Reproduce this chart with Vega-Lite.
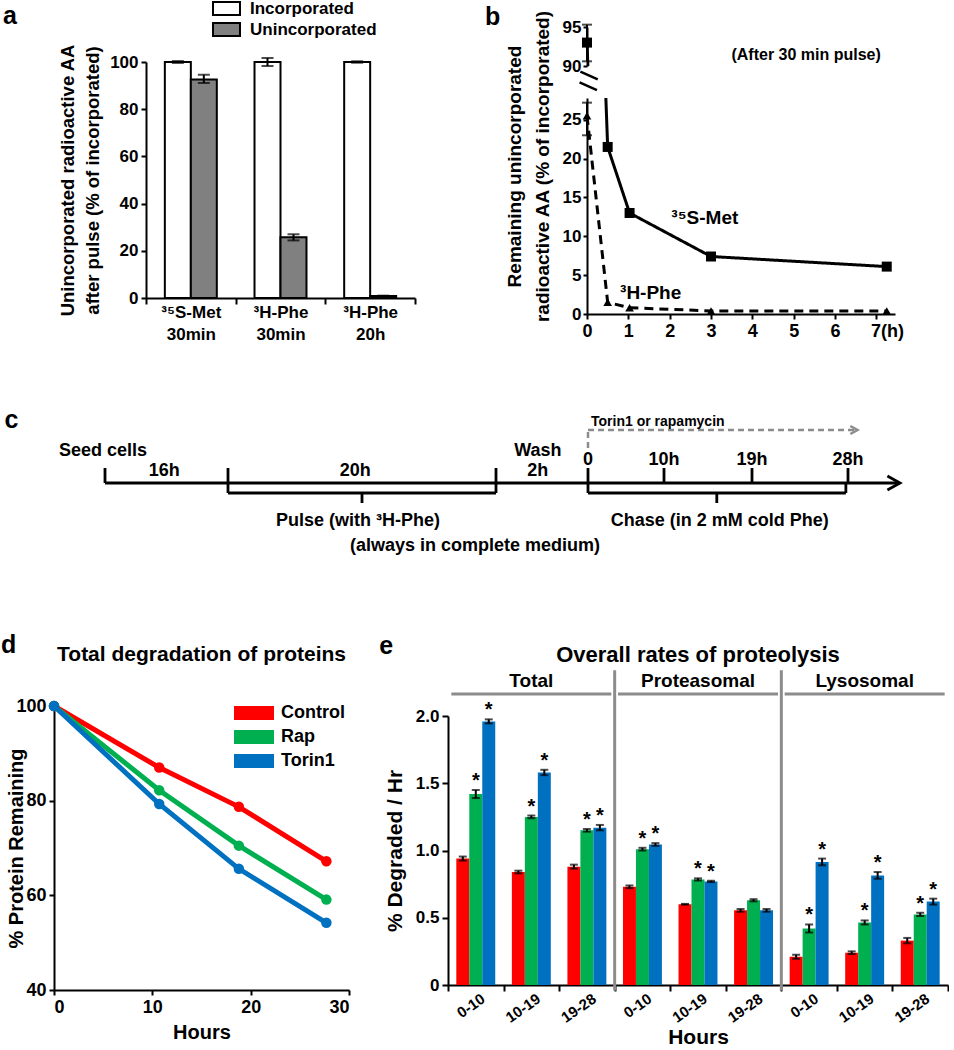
{
  "$schema": "https://vega.github.io/schema/vega-lite/v6.json",
  "background": "white",
  "padding": 0,
  "config": {
    "font": "Liberation Sans",
    "view": {"stroke": null},
    "axis": {"labelFont": "Liberation Sans", "labelFontWeight": "bold", "labelColor": "black", "labelFontSize": 17, "titleFont": "Liberation Sans", "titleFontWeight": "bold", "titleColor": "black", "titleFontSize": 18, "domainColor": "black", "domainWidth": 2, "tickColor": "black", "tickWidth": 2, "tickSize": 5, "grid": false, "labelPadding": 3},
    "legend": {"labelFont": "Liberation Sans", "labelFontWeight": "bold", "labelColor": "black", "padding": 0},
    "title": {"font": "Liberation Sans", "fontWeight": "bold", "fontSize": 25, "anchor": "start", "offset": 0, "baseline": "alphabetic", "color": "black", "frame": "bounds"},
    "text": {"font": "Liberation Sans", "fontWeight": "bold", "color": "black"}
  },
  "datasets": {
    "a": [
      {"probe": "³⁵S-Met|30min", "kind": "Incorporated", "v": 100, "lo": 99.6, "hi": 100.4},
      {"probe": "³⁵S-Met|30min", "kind": "Unincorporated", "v": 92.6, "lo": 91.1, "hi": 94.6},
      {"probe": "³H-Phe|30min", "kind": "Incorporated", "v": 100, "lo": 98.3, "hi": 101.7},
      {"probe": "³H-Phe|30min", "kind": "Unincorporated", "v": 25.7, "lo": 24.4, "hi": 27.0},
      {"probe": "³H-Phe|20h", "kind": "Incorporated", "v": 100, "lo": 99.7, "hi": 100.3},
      {"probe": "³H-Phe|20h", "kind": "Unincorporated", "v": 0.9, "lo": 0.8, "hi": 1.0}
    ],
    "bpts": [
      {"s": "35S", "t": 0, "v": 93.0},
      {"s": "35S", "t": 0.5, "v": 21.5},
      {"s": "35S", "t": 1.03, "v": 13.0},
      {"s": "35S", "t": 3, "v": 7.4},
      {"s": "35S", "t": 7.25, "v": 6.1},
      {"s": "3H", "t": 0, "v": 25.5},
      {"s": "3H", "t": 0.5, "v": 1.5},
      {"s": "3H", "t": 1.03, "v": 0.8},
      {"s": "3H", "t": 3, "v": 0.4},
      {"s": "3H", "t": 7.25, "v": 0.4}
    ],
    "berr": [
      {"s": "35S", "t": 0, "lo": 90.6, "hi": 95.3},
      {"s": "3H", "t": 0, "lo": 23.0, "hi": 27.2}
    ],
    "bnote": [{"t": 5.3, "v": 91.4, "label": "(After 30 min pulse)"}],
    "blab": [
      {"t": 2.85, "v": 12.4, "label": "³⁵S-Met"},
      {"t": 1.54, "v": 2.75, "label": "³H-Phe"}
    ],
    "bbreak": [
      {"t": -0.16, "t2": 0.26, "v": 31.2, "v2": 30.2},
      {"t": -0.18, "t2": 0.24, "v": 29.8, "v2": 28.8}
    ],
    "cseg": [
      {"x": -38, "x2": 33.7, "y": 0, "y2": 0},
      {"x": -38, "x2": -38, "y": 0, "y2": 15},
      {"x": -22, "x2": -22, "y": 0, "y2": 15},
      {"x": -2, "x2": -2, "y": 0, "y2": 15},
      {"x": 0, "x2": 0, "y": 0, "y2": 15},
      {"x": 10, "x2": 10, "y": 0, "y2": 15},
      {"x": 19, "x2": 19, "y": 0, "y2": 15},
      {"x": 28, "x2": 28, "y": 0, "y2": 15},
      {"x": -22, "x2": -22, "y": 0, "y2": -10},
      {"x": -22, "x2": -2, "y": -10, "y2": -10},
      {"x": -2, "x2": -2, "y": -10, "y2": 0},
      {"x": -12, "x2": -12, "y": -10, "y2": -20},
      {"x": 0, "x2": 0, "y": 0, "y2": -10},
      {"x": 0, "x2": 27.8, "y": -10, "y2": -10},
      {"x": 27.8, "x2": 27.8, "y": -10, "y2": 0},
      {"x": 15.4, "x2": 15.4, "y": -10, "y2": -20}
    ],
    "cdash": [
      {"x": 0, "x2": 0, "y": 35, "y2": 53},
      {"x": 0, "x2": 28.9, "y": 53, "y2": 53}
    ],
    "chead": [{"x": 34, "y": 0}],
    "cdhead": [{"x": 29.1, "y": 53}],
    "ctext": [
      {"x": -43.4, "y": 55, "label": "c", "role": "letter"},
      {"x": -40.65, "y": 27, "label": "Seed cells", "role": "left"},
      {"x": -30.3, "y": 7, "label": "16h", "role": "main"},
      {"x": -12.5, "y": 7, "label": "20h", "role": "main"},
      {"x": -1.09, "y": 27, "label": "Wash", "role": "main"},
      {"x": -1.09, "y": 7, "label": "2h", "role": "main"},
      {"x": 0, "y": 18, "label": "0", "role": "main"},
      {"x": 10, "y": 18, "label": "10h", "role": "main"},
      {"x": 19, "y": 18, "label": "19h", "role": "main"},
      {"x": 28, "y": 18, "label": "28h", "role": "main"},
      {"x": 0.4, "y": 57, "label": "Torin1 or rapamycin", "role": "small"},
      {"x": -12.3, "y": -43, "label": "Pulse (with ³H-Phe)", "role": "main"},
      {"x": 15.7, "y": -43, "label": "Chase (in 2 mM cold Phe)", "role": "main"},
      {"x": -3.57, "y": -68, "label": "(always in complete medium)", "role": "main"}
    ],
    "d": [
      {"g": "Control", "t": 0, "v": 100}, {"g": "Control", "t": 10.7, "v": 87.0}, {"g": "Control", "t": 18.8, "v": 78.7}, {"g": "Control", "t": 27.7, "v": 67.2},
      {"g": "Rap", "t": 0, "v": 100}, {"g": "Rap", "t": 10.7, "v": 82.2}, {"g": "Rap", "t": 18.8, "v": 70.5}, {"g": "Rap", "t": 27.7, "v": 59.1},
      {"g": "Torin1", "t": 0, "v": 100}, {"g": "Torin1", "t": 10.7, "v": 79.3}, {"g": "Torin1", "t": 18.8, "v": 65.6}, {"g": "Torin1", "t": 27.7, "v": 54.2}
    ],
    "dtitle": [{"t": 15, "v": 110.8, "label": "Total degradation of proteins"}],
    "e": [
      {"cat": "T|0-10", "trt": "Control", "v": 0.94, "lo": 0.925, "hi": 0.955, "sig": ""},
      {"cat": "T|0-10", "trt": "Rap", "v": 1.42, "lo": 1.39, "hi": 1.45, "sig": "*"},
      {"cat": "T|0-10", "trt": "Torin1", "v": 1.96, "lo": 1.945, "hi": 1.975, "sig": "*"},
      {"cat": "T|10-19", "trt": "Control", "v": 0.84, "lo": 0.83, "hi": 0.85, "sig": ""},
      {"cat": "T|10-19", "trt": "Rap", "v": 1.25, "lo": 1.24, "hi": 1.26, "sig": "*"},
      {"cat": "T|10-19", "trt": "Torin1", "v": 1.58, "lo": 1.56, "hi": 1.60, "sig": "*"},
      {"cat": "T|19-28", "trt": "Control", "v": 0.88, "lo": 0.865, "hi": 0.895, "sig": ""},
      {"cat": "T|19-28", "trt": "Rap", "v": 1.15, "lo": 1.14, "hi": 1.16, "sig": "*"},
      {"cat": "T|19-28", "trt": "Torin1", "v": 1.17, "lo": 1.15, "hi": 1.19, "sig": "*"},
      {"cat": "P|0-10", "trt": "Control", "v": 0.73, "lo": 0.72, "hi": 0.74, "sig": ""},
      {"cat": "P|0-10", "trt": "Rap", "v": 1.01, "lo": 1.0, "hi": 1.02, "sig": "*"},
      {"cat": "P|0-10", "trt": "Torin1", "v": 1.045, "lo": 1.035, "hi": 1.055, "sig": "*"},
      {"cat": "P|10-19", "trt": "Control", "v": 0.60, "lo": 0.597, "hi": 0.603, "sig": ""},
      {"cat": "P|10-19", "trt": "Rap", "v": 0.785, "lo": 0.777, "hi": 0.793, "sig": "*"},
      {"cat": "P|10-19", "trt": "Torin1", "v": 0.77, "lo": 0.765, "hi": 0.775, "sig": "*"},
      {"cat": "P|19-28", "trt": "Control", "v": 0.555, "lo": 0.545, "hi": 0.565, "sig": ""},
      {"cat": "P|19-28", "trt": "Rap", "v": 0.63, "lo": 0.622, "hi": 0.638, "sig": ""},
      {"cat": "P|19-28", "trt": "Torin1", "v": 0.555, "lo": 0.545, "hi": 0.565, "sig": ""},
      {"cat": "L|0-10", "trt": "Control", "v": 0.21, "lo": 0.195, "hi": 0.225, "sig": ""},
      {"cat": "L|0-10", "trt": "Rap", "v": 0.42, "lo": 0.39, "hi": 0.45, "sig": "*"},
      {"cat": "L|0-10", "trt": "Torin1", "v": 0.915, "lo": 0.89, "hi": 0.94, "sig": "*"},
      {"cat": "L|10-19", "trt": "Control", "v": 0.24, "lo": 0.23, "hi": 0.25, "sig": ""},
      {"cat": "L|10-19", "trt": "Rap", "v": 0.465, "lo": 0.45, "hi": 0.48, "sig": "*"},
      {"cat": "L|10-19", "trt": "Torin1", "v": 0.815, "lo": 0.79, "hi": 0.84, "sig": "*"},
      {"cat": "L|19-28", "trt": "Control", "v": 0.33, "lo": 0.31, "hi": 0.35, "sig": ""},
      {"cat": "L|19-28", "trt": "Rap", "v": 0.525, "lo": 0.513, "hi": 0.537, "sig": "*"},
      {"cat": "L|19-28", "trt": "Torin1", "v": 0.62, "lo": 0.598, "hi": 0.642, "sig": "*"}
    ],
    "esep": [
      {"cat": "P|0-10", "y0": -0.04, "y1": 2.34},
      {"cat": "L|0-10", "y0": -0.04, "y1": 2.34}
    ],
    "eline": [
      {"cat": "T|0-10", "cat2": "T|19-28", "y": 2.164},
      {"cat": "P|0-10", "cat2": "P|19-28", "y": 2.164},
      {"cat": "L|0-10", "cat2": "L|19-28", "y": 2.164}
    ],
    "elab": [
      {"cat": "T|10-19", "y": 2.26, "label": "Total"},
      {"cat": "P|10-19", "y": 2.26, "label": "Proteasomal"},
      {"cat": "L|10-19", "y": 2.26, "label": "Lysosomal"}
    ],
    "etitle": [{"cat": "P|10-19", "y": 2.453, "label": "Overall rates of proteolysis"}]
  },
  "resolve": {"scale": {"fill": "independent", "stroke": "independent", "xOffset": "independent", "shape": "independent", "size": "independent", "strokeDash": "independent"}, "legend": {"fill": "independent", "stroke": "independent"}},
  "columns": 1,
  "align": "none",
  "spacing": 65,
  "concat": [
    {
      "columns": 2,
      "align": "none",
      "spacing": 69,
      "resolve": {"scale": {"fill": "independent", "stroke": "independent", "xOffset": "independent", "shape": "independent", "size": "independent", "strokeDash": "independent"}, "legend": {"fill": "independent"}},
      "concat": [
        {
          "title": {"text": "a", "frame": "group", "dx": -51, "dy": 33},
          "width": 361,
          "height": 271,
          "data": {"name": "a"},
          "encoding": {
            "x": {"field": "probe", "type": "nominal", "sort": null, "scale": {"range": [92, 361], "paddingInner": 0, "paddingOuter": 0}, "axis": {"title": null, "labelExpr": "split(datum.label, '|')", "labelAngle": 0, "tickBand": "extent", "labelLineHeight": 22, "labelPadding": 0, "tickSize": 6}},
            "xOffset": {"field": "kind", "type": "nominal", "scale": {"domain": ["Incorporated", "Unincorporated"], "paddingInner": 0, "paddingOuter": 0.725}}
          },
          "layer": [
            {
              "mark": {"type": "bar", "stroke": "black", "strokeWidth": 2},
              "encoding": {
                "y": {"field": "v", "type": "quantitative", "scale": {"domain": [0, 100], "range": [271, 35], "nice": false}, "axis": {"values": [0, 20, 40, 60, 80, 100], "offset": -92, "title": ["Unincorporated radioactive AA", "after pulse (% of incorporated)"], "titleFontSize": 18.5, "titleLineHeight": 25, "titlePadding": 7}},
                "fill": {"field": "kind", "type": "nominal", "scale": {"domain": ["Incorporated", "Unincorporated"], "range": ["white", "#808080"]}, "legend": {"orient": "none", "legendX": 164, "legendY": -27, "title": null, "symbolType": "M-2,-0.96H2V0.96H-2Z", "symbolSize": 182, "symbolStrokeColor": "black", "symbolStrokeWidth": 2, "labelFontSize": 17, "labelOffset": 15, "rowPadding": 0}}
              }
            },
            {"mark": {"type": "rule", "color": "black", "strokeWidth": 2}, "encoding": {"y": {"field": "lo", "type": "quantitative"}, "y2": {"field": "hi"}}},
            {"mark": {"type": "tick", "color": "black", "thickness": 2, "size": 12}, "encoding": {"y": {"field": "hi", "type": "quantitative"}}},
            {"mark": {"type": "tick", "color": "black", "thickness": 2, "size": 12}, "encoding": {"y": {"field": "lo", "type": "quantitative"}}}
          ]
        },
        {
          "columns": 1,
          "spacing": 32,
          "bounds": "flush",
          "concat": [
            {
              "title": {"text": "b", "dx": -77, "dy": 16},
              "width": 308,
              "height": 39,
              "encoding": {"x": {"field": "t", "type": "quantitative", "scale": {"domain": [0, 7.45], "nice": false}, "axis": null}},
              "layer": [
                {"data": {"name": "bpts"}, "transform": [{"filter": "datum.s == '35S'"}], "mark": {"type": "line", "color": "black", "strokeWidth": 3, "clip": true}, "encoding": {"y": {"field": "v", "type": "quantitative", "scale": {"domain": [90, 95], "nice": false, "zero": false}, "axis": {"values": [90, 95], "title": null, "tickSize": 4, "labelPadding": 2}}}},
                {"data": {"name": "bpts"}, "transform": [{"filter": "datum.s == '35S' && datum.v >= 90"}], "mark": {"type": "point", "shape": "square", "filled": true, "color": "black", "opacity": 1, "size": 100}, "encoding": {"y": {"field": "v", "type": "quantitative"}}},
                {"data": {"name": "berr"}, "transform": [{"filter": "datum.s == '35S'"}], "mark": {"type": "rule", "color": "black", "strokeWidth": 2}, "encoding": {"y": {"field": "lo", "type": "quantitative"}, "y2": {"field": "hi"}}},
                {"data": {"name": "berr"}, "transform": [{"filter": "datum.s == '35S'"}], "mark": {"type": "tick", "orient": "horizontal", "color": "black", "thickness": 2, "size": 10}, "encoding": {"y": {"field": "hi", "type": "quantitative"}}},
                {"data": {"name": "berr"}, "transform": [{"filter": "datum.s == '35S'"}], "mark": {"type": "tick", "orient": "horizontal", "color": "black", "thickness": 2, "size": 10}, "encoding": {"y": {"field": "lo", "type": "quantitative"}}},
                {"data": {"name": "bnote"}, "mark": {"type": "text", "fontSize": 16, "baseline": "middle"}, "encoding": {"y": {"field": "v", "type": "quantitative"}, "text": {"field": "label"}}}
              ]
            },
            {
              "width": 308,
              "height": 216,
              "encoding": {"x": {"field": "t", "type": "quantitative", "scale": {"domain": [0, 7.45], "nice": false}, "axis": {"values": [0, 1, 2, 3, 4, 5, 6, 7], "title": null, "labelFontSize": 18, "tickSize": 5, "labelExpr": "datum.value == 7 ? '7(h)' : datum.label", "labelAlign": {"condition": {"test": "datum.value == 7", "value": "left"}, "value": "center"}, "labelOffset": {"condition": {"test": "datum.value == 7", "value": -6}, "value": 0}}}},
              "layer": [
                {"data": {"name": "bpts"}, "mark": {"type": "line", "color": "black", "strokeWidth": 3, "clip": true}, "encoding": {"y": {"field": "v", "type": "quantitative", "scale": {"domain": [0, 27.8], "nice": false}, "axis": {"values": [0, 5, 10, 15, 20, 25], "title": ["Remaining unincorporated", "radioactive AA (% of incorporated)"], "titleFontSize": 19, "titleLineHeight": 28, "titleX": -63, "titleY": 68, "tickSize": 4, "labelPadding": 2}}, "detail": {"field": "s"}, "strokeDash": {"field": "s", "type": "nominal", "scale": {"domain": ["35S", "3H"], "range": [[1, 0], [9, 6]]}, "legend": null}}},
                {"data": {"name": "bpts"}, "transform": [{"filter": "datum.v <= 27.8"}], "mark": {"type": "point", "filled": true, "color": "black", "opacity": 1}, "encoding": {"y": {"field": "v", "type": "quantitative"}, "shape": {"field": "s", "type": "nominal", "scale": {"domain": ["35S", "3H"], "range": ["square", "triangle-up"]}, "legend": null}, "size": {"field": "s", "type": "nominal", "scale": {"domain": ["35S", "3H"], "range": [100, 75]}, "legend": null}}},
                {"data": {"name": "berr"}, "transform": [{"filter": "datum.s == '3H'"}], "mark": {"type": "rule", "color": "black", "strokeWidth": 2}, "encoding": {"y": {"field": "lo", "type": "quantitative"}, "y2": {"field": "hi"}}},
                {"data": {"name": "berr"}, "transform": [{"filter": "datum.s == '3H'"}], "mark": {"type": "tick", "orient": "horizontal", "color": "black", "thickness": 2, "size": 10}, "encoding": {"y": {"field": "hi", "type": "quantitative"}}},
                {"data": {"name": "berr"}, "transform": [{"filter": "datum.s == '3H'"}], "mark": {"type": "tick", "orient": "horizontal", "color": "black", "thickness": 2, "size": 10}, "encoding": {"y": {"field": "lo", "type": "quantitative"}}},
                {"data": {"name": "bbreak"}, "mark": {"type": "rule", "color": "black", "strokeWidth": 2.5}, "encoding": {"x": {"field": "t", "type": "quantitative"}, "x2": {"field": "t2"}, "y": {"field": "v", "type": "quantitative"}, "y2": {"field": "v2"}}},
                {"data": {"name": "blab"}, "mark": {"type": "text", "fontSize": 19, "baseline": "middle"}, "encoding": {"y": {"field": "v", "type": "quantitative"}, "text": {"field": "label"}}}
              ]
            }
          ]
        }
      ]
    },
    {
      "width": 846,
      "height": 160,
      "encoding": {
        "x": {"field": "x", "type": "quantitative", "scale": {"domain": [-44, -38, -22, -2, 0, 10, 19, 28, 34], "range": [-53, 51, 174, 442, 534, 610, 698, 794, 846], "nice": false, "zero": false}, "axis": null},
        "y": {"field": "y", "type": "quantitative", "scale": {"domain": [-84, 76], "nice": false, "zero": false}, "axis": null}
      },
      "layer": [
        {"data": {"name": "cseg"}, "mark": {"type": "rule", "color": "black", "strokeWidth": 2.8}, "encoding": {"x2": {"field": "x2"}, "y2": {"field": "y2"}}},
        {"data": {"name": "cdash"}, "mark": {"type": "rule", "color": "#8c8c8c", "strokeWidth": 2.5, "strokeDash": [6, 4]}, "encoding": {"x2": {"field": "x2"}, "y2": {"field": "y2"}}},
        {"data": {"name": "chead"}, "mark": {"type": "point", "shape": "M-1.8,-1L0,0L-1.8,1", "size": 196, "filled": false, "color": "black", "strokeWidth": 2.8, "opacity": 1}, "encoding": {}},
        {"data": {"name": "cdhead"}, "mark": {"type": "point", "shape": "M-1.8,-1L0,0L-1.8,1", "size": 64, "filled": false, "color": "#8c8c8c", "strokeWidth": 2.5, "opacity": 1}, "encoding": {}},
        {"data": {"name": "ctext"}, "transform": [{"filter": "datum.role == 'main'"}], "mark": {"type": "text", "fontSize": 18, "baseline": "alphabetic", "align": "center"}, "encoding": {"text": {"field": "label"}}},
        {"data": {"name": "ctext"}, "transform": [{"filter": "datum.role == 'left'"}], "mark": {"type": "text", "fontSize": 18, "baseline": "alphabetic", "align": "left"}, "encoding": {"text": {"field": "label"}}},
        {"data": {"name": "ctext"}, "transform": [{"filter": "datum.role == 'small'"}], "mark": {"type": "text", "fontSize": 14, "baseline": "alphabetic", "align": "left"}, "encoding": {"text": {"field": "label"}}},
        {"data": {"name": "ctext"}, "transform": [{"filter": "datum.role == 'letter'"}], "mark": {"type": "text", "fontSize": 25, "baseline": "alphabetic", "align": "center"}, "encoding": {"text": {"field": "label"}}}
      ]
    },
    {
      "columns": 2,
      "align": "none",
      "spacing": 29,
      "resolve": {"scale": {"fill": "independent", "stroke": "independent", "xOffset": "independent", "shape": "independent", "size": "independent", "strokeDash": "independent"}, "legend": {"fill": "independent", "stroke": "independent"}},
      "concat": [
        {
          "title": {"text": "d", "dx": -5, "dy": 18},
          "width": 295,
          "height": 284,
          "encoding": {"x": {"field": "t", "type": "quantitative", "scale": {"domain": [0, 30], "nice": false}, "axis": {"values": [0, 10, 20, 30], "title": "Hours", "titleFontSize": 20, "labelFontSize": 18, "titlePadding": 6}}},
          "layer": [
            {"data": {"name": "d"}, "mark": {"type": "line", "strokeWidth": 5}, "encoding": {"y": {"field": "v", "type": "quantitative", "scale": {"domain": [40, 100], "nice": false, "zero": false}, "axis": {"values": [40, 60, 80, 100], "title": "% Protein Remaining", "titleFontSize": 20, "labelFontSize": 18, "titleX": -28}}, "stroke": {"field": "g", "type": "nominal", "scale": {"domain": ["Control", "Rap", "Torin1"], "range": ["#ff0000", "#00b050", "#0070c0"]}, "legend": {"orient": "none", "legendX": 190, "legendY": -3, "title": null, "symbolType": "M-2,-0.7H2V0.7H-2Z", "symbolSize": 400, "symbolStrokeWidth": 0, "labelFontSize": 18, "labelOffset": 17, "rowPadding": 5}}}},
            {"data": {"name": "d"}, "mark": {"type": "circle", "size": 110, "opacity": 1}, "encoding": {"y": {"field": "v", "type": "quantitative"}, "fill": {"field": "g", "type": "nominal", "scale": {"domain": ["Control", "Rap", "Torin1"], "range": ["#ff0000", "#00b050", "#0070c0"]}, "legend": {"orient": "none", "legendX": 190, "legendY": -3, "title": null, "symbolType": "M-2,-0.7H2V0.7H-2Z", "symbolSize": 400, "symbolStrokeWidth": 0, "labelFontSize": 18, "labelOffset": 17, "rowPadding": 5}}}},
            {"data": {"name": "dtitle"}, "mark": {"type": "text", "fontSize": 21, "baseline": "middle"}, "encoding": {"y": {"field": "v", "type": "quantitative"}, "text": {"field": "label"}}}
          ]
        },
        {
          "title": {"text": "e", "dx": -5, "dy": 19},
          "width": 500,
          "height": 279,
          "encoding": {"x": {"field": "cat", "type": "nominal", "scale": {"domain": ["T|0-10", "T|10-19", "T|19-28", "P|0-10", "P|10-19", "P|19-28", "L|0-10", "L|10-19", "L|19-28"], "paddingInner": 0, "paddingOuter": 0}, "axis": {"title": "Hours", "titleFontSize": 21, "titleBaseline": "alphabetic", "titleY": 58, "labelExpr": "split(datum.label, '|')[1]", "labelAngle": -35, "labelAlign": "right", "labelBaseline": "top", "tickBand": "extent", "labelOffset": 3, "labelPadding": 0, "tickSize": 6, "labelFontSize": 15}}},
          "layer": [
            {"data": {"name": "e"}, "mark": {"type": "bar"}, "encoding": {"xOffset": {"field": "trt", "type": "nominal", "scale": {"domain": ["Control", "Rap", "Torin1"], "paddingInner": 0, "paddingOuter": 0.64}}, "y": {"field": "v", "type": "quantitative", "scale": {"domain": [0, 2], "range": [279, 10], "nice": false}, "axis": {"values": [0, 0.5, 1, 1.5, 2], "labelExpr": "datum.value == 0 ? '0' : format(datum.value, '.1f')", "title": "% Degraded / Hr", "titleFontSize": 21, "titlePadding": 10, "tickSize": 6}}, "fill": {"field": "trt", "type": "nominal", "scale": {"domain": ["Control", "Rap", "Torin1"], "range": ["#ff0000", "#00b050", "#0070c0"]}, "legend": null}}},
            {"data": {"name": "e"}, "mark": {"type": "rule", "color": "black", "strokeWidth": 2}, "encoding": {"xOffset": {"field": "trt", "type": "nominal"}, "y": {"field": "lo", "type": "quantitative"}, "y2": {"field": "hi"}}},
            {"data": {"name": "e"}, "mark": {"type": "tick", "color": "black", "thickness": 2, "size": 8}, "encoding": {"xOffset": {"field": "trt", "type": "nominal"}, "y": {"field": "hi", "type": "quantitative"}}},
            {"data": {"name": "e"}, "mark": {"type": "tick", "color": "black", "thickness": 2, "size": 8}, "encoding": {"xOffset": {"field": "trt", "type": "nominal"}, "y": {"field": "lo", "type": "quantitative"}}},
            {"data": {"name": "e"}, "mark": {"type": "text", "fontSize": 20, "baseline": "alphabetic", "dy": -3}, "encoding": {"xOffset": {"field": "trt", "type": "nominal"}, "y": {"field": "hi", "type": "quantitative"}, "text": {"field": "sig"}}},
            {"data": {"name": "esep"}, "mark": {"type": "rule", "color": "#8c8c8c", "strokeWidth": 3}, "encoding": {"x": {"field": "cat", "type": "nominal", "bandPosition": 0}, "y": {"field": "y0", "type": "quantitative"}, "y2": {"field": "y1"}}},
            {"data": {"name": "eline"}, "mark": {"type": "rule", "color": "#8c8c8c", "strokeWidth": 3}, "encoding": {"x": {"field": "cat", "type": "nominal", "bandPosition": 0.06}, "x2": {"field": "cat2", "bandPosition": 0.94}, "y": {"field": "y", "type": "quantitative"}}},
            {"data": {"name": "elab"}, "mark": {"type": "text", "fontSize": 19, "baseline": "middle"}, "encoding": {"y": {"field": "y", "type": "quantitative"}, "text": {"field": "label"}}},
            {"data": {"name": "etitle"}, "mark": {"type": "text", "fontSize": 22, "baseline": "middle"}, "encoding": {"y": {"field": "y", "type": "quantitative"}, "text": {"field": "label"}}}
          ]
        }
      ]
    }
  ]
}
